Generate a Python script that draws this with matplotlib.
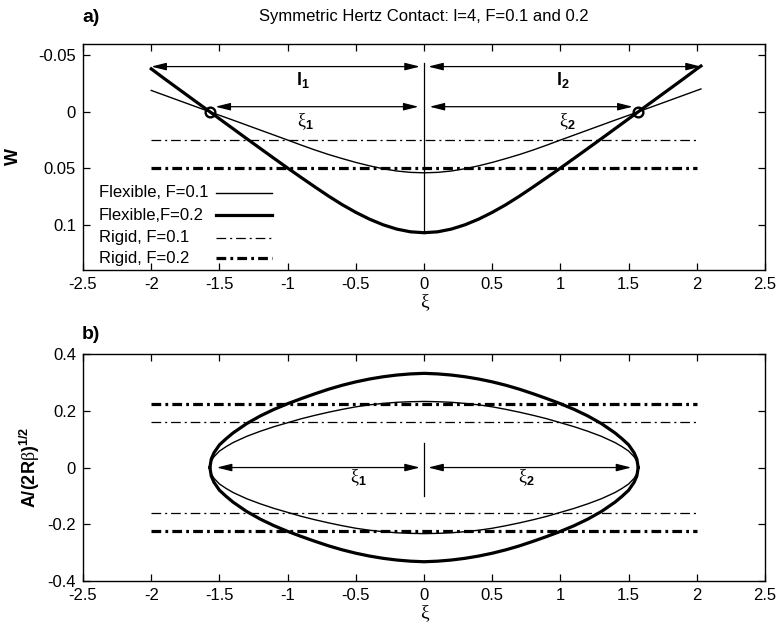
import matplotlib
matplotlib.use("Agg")
import matplotlib.pyplot as plt

plt.rcParams["font.family"] = "Liberation Sans"
plt.rcParams["axes.unicode_minus"] = False
plt.rcParams["mathtext.fontset"] = "custom"
plt.rcParams["mathtext.rm"] = "Liberation Serif"
plt.rcParams["mathtext.bf"] = "Liberation Sans:bold"
plt.rcParams["lines.scale_dashes"] = False

# a) deflection W along xi
xi_a = [-2.0, -1.9, -1.8, -1.7, -1.57, -1.5, -1.4, -1.3, -1.2, -1.1, -1.0, -0.9, -0.8, -0.7,
        -0.6, -0.5, -0.4, -0.3, -0.2, -0.1, 0.0, 0.1, 0.2, 0.3, 0.4, 0.5, 0.6, 0.7, 0.8, 0.9,
        1.0, 1.1, 1.2, 1.3, 1.4, 1.5, 1.57, 1.7, 1.8, 1.9, 2.0, 2.03]
w_flex_01 = [-0.0189, -0.0145, -0.0101, -0.0057, 0.0, 0.0031, 0.0074, 0.0118, 0.0162, 0.0206,
             0.0250, 0.0295, 0.0338, 0.0378, 0.0414, 0.0448, 0.0478, 0.0504, 0.0524, 0.0536,
             0.0540, 0.0536, 0.0524, 0.0504, 0.0478, 0.0448, 0.0414, 0.0378, 0.0338, 0.0295,
             0.0250, 0.0206, 0.0162, 0.0118, 0.0074, 0.0031, 0.0, -0.0057, -0.0101, -0.0145,
             -0.0189, -0.0202]
w_flex_02 = [-0.0380, -0.0290, -0.0202, -0.0114, 0.0, 0.0062, 0.0150, 0.0238, 0.0325, 0.0412,
             0.0498, 0.0582, 0.0665, 0.0746, 0.0822, 0.0890, 0.0950, 0.1000, 0.1038, 0.1062,
             0.1070, 0.1062, 0.1038, 0.1000, 0.0950, 0.0890, 0.0822, 0.0746, 0.0665, 0.0582,
             0.0498, 0.0412, 0.0325, 0.0238, 0.0150, 0.0062, 0.0, -0.0114, -0.0202, -0.0290,
             -0.0380, -0.0405]
w_rigid = [0.025, 0.05]
rigid_x = [-2.0, 2.0]
xi_touch = [-1.57, 1.57]
l_ends = [-2.0, 2.03]

# b) contact half-width A/(2R beta)^1/2
xi_b = [-1.57, -1.56, -1.54, -1.5, -1.45, -1.4, -1.3, -1.2, -1.1, -1.0, -0.9, -0.8, -0.7,
        -0.6, -0.5, -0.4, -0.3, -0.2, -0.1, 0.0, 0.1, 0.2, 0.3, 0.4, 0.5, 0.6, 0.7, 0.8, 0.9,
        1.0, 1.1, 1.2, 1.3, 1.4, 1.45, 1.5, 1.54, 1.56, 1.57]
a_flex_01 = [0.0, 0.022, 0.038, 0.058, 0.074, 0.088, 0.110, 0.128, 0.144, 0.158, 0.172, 0.184,
             0.195, 0.205, 0.214, 0.221, 0.226, 0.230, 0.232, 0.233, 0.232, 0.230, 0.226, 0.221,
             0.214, 0.205, 0.195, 0.184, 0.172, 0.158, 0.144, 0.128, 0.110, 0.088, 0.074, 0.058,
             0.038, 0.022, 0.0]
a_flex_02 = [0.0, 0.030, 0.052, 0.080, 0.102, 0.122, 0.155, 0.182, 0.205, 0.225, 0.243, 0.260,
             0.276, 0.290, 0.302, 0.312, 0.320, 0.326, 0.330, 0.332, 0.330, 0.326, 0.320, 0.312,
             0.302, 0.290, 0.276, 0.260, 0.243, 0.225, 0.205, 0.182, 0.155, 0.122, 0.102, 0.080,
             0.052, 0.030, 0.0]
a_rigid = [0.16, 0.225]

xticks = [-2.5, -2, -1.5, -1, -0.5, 0, 0.5, 1, 1.5, 2, 2.5]
xtick_labels = ["-2.5", "-2", "-1.5", "-1", "-0.5", "0", "0.5", "1", "1.5", "2", "2.5"]
ya_ticks = [-0.05, 0, 0.05, 0.1]
ya_labels = ["-0.05", "0", "0.05", "0.1"]
yb_ticks = [-0.4, -0.2, 0, 0.2, 0.4]
yb_labels = ["-0.4", "-0.2", "0", "0.2", "0.4"]

thin_dd = (0, (7, 2.8, 1.5, 2.8))
thick_dd = (0, (7, 3, 2, 3))
arrow = dict(arrowstyle="<|-|>,head_length=0.6,head_width=0.15", color="k", lw=0.9,
             mutation_scale=15, shrinkA=0, shrinkB=0)

styles = [
    ("Flexible, F=0.1", dict(color="k", lw=1.0)),
    ("Flexible,F=0.2", dict(color="k", lw=2.3)),
    ("Rigid, F=0.1", dict(color="k", lw=0.9, ls=thin_dd)),
    ("Rigid, F=0.2", dict(color="k", lw=2.3, ls=thick_dd)),
]

fig = plt.figure(figsize=(7.79, 6.31), dpi=100)
ax1 = fig.add_axes([0.1066, 0.5721, 0.8755, 0.3582])
ax2 = fig.add_axes([0.1066, 0.0792, 0.8755, 0.3597])

# --- panel a ---
ax1.plot(xi_a, w_flex_01, **styles[0][1])
ax1.plot(xi_a, w_flex_02, **styles[1][1])
ax1.plot(rigid_x, [w_rigid[0]] * 2, **styles[2][1])
ax1.plot(rigid_x, [w_rigid[1]] * 2, **styles[3][1])
ax1.plot(xi_touch, [0, 0], "o", mfc="none", mec="k", ms=7, mew=1.7)
ax1.plot([0, 0], [-0.0435, max(w_flex_02)], color="k", lw=0.9)

ax1.annotate("", xy=(l_ends[0], -0.040), xytext=(-0.03, -0.040), arrowprops=arrow)
ax1.annotate("", xy=(0.03, -0.040), xytext=(l_ends[1], -0.040), arrowprops=arrow)
ax1.annotate("", xy=(xi_touch[0] + 0.04, -0.0045), xytext=(-0.04, -0.0045), arrowprops=arrow)
ax1.annotate("", xy=(0.04, -0.0045), xytext=(xi_touch[1] - 0.04, -0.0045), arrowprops=arrow)
ax1.text(-0.89, -0.028, r"$\mathbf{l}_{\mathbf{1}}$", fontsize=13, ha="center", va="center")
ax1.text(1.02, -0.028, r"$\mathbf{l}_{\mathbf{2}}$", fontsize=13, ha="center", va="center")
ax1.text(-0.87, 0.009, r"$\mathrm{\xi}_{\mathbf{1}}$", fontsize=13, ha="center", va="center")
ax1.text(1.05, 0.009, r"$\mathrm{\xi}_{\mathbf{2}}$", fontsize=13, ha="center", va="center")

ax1.set_xlim(-2.5, 2.5)
ax1.set_ylim(0.14, -0.06)
ax1.set_yticks(ya_ticks)
ax1.set_yticklabels(ya_labels)
ax1.set_ylabel("W", fontsize=13, fontweight="bold", labelpad=12)

# key: labels on the left, line samples on the right
key_rows = [0.341, 0.243, 0.142, 0.053]
for (label, kw), yk in zip(styles, key_rows):
    ax1.text(0.0235, yk, label, transform=ax1.transAxes, fontsize=12, va="center", ha="left")
    ax1.plot([0.195, 0.277], [yk, yk], transform=ax1.transAxes, **kw)

# --- panel b ---
ax2.plot(xi_b, a_flex_01, **styles[0][1])
ax2.plot(xi_b, [-a for a in a_flex_01], **styles[0][1])
ax2.plot(xi_b, a_flex_02, **styles[1][1])
ax2.plot(xi_b, [-a for a in a_flex_02], **styles[1][1])
for sign in (1, -1):
    ax2.plot(rigid_x, [sign * a_rigid[0]] * 2, **styles[2][1])
    ax2.plot(rigid_x, [sign * a_rigid[1]] * 2, **styles[3][1])
ax2.plot([0, 0], [0.087, -0.10], color="k", lw=0.9)

ax2.annotate("", xy=(xi_touch[0] + 0.05, 0), xytext=(-0.03, 0), arrowprops=arrow)
ax2.annotate("", xy=(0.03, 0), xytext=(xi_touch[1] - 0.05, 0), arrowprops=arrow)
ax2.text(-0.48, -0.037, r"$\mathrm{\xi}_{\mathbf{1}}$", fontsize=13, ha="center", va="center")
ax2.text(0.75, -0.037, r"$\mathrm{\xi}_{\mathbf{2}}$", fontsize=13, ha="center", va="center")

ax2.set_xlim(-2.5, 2.5)
ax2.set_ylim(-0.4, 0.4)
ax2.set_yticks(yb_ticks)
ax2.set_yticklabels(yb_labels)
ax2.set_ylabel(r"$\mathbf{A/(2R}\mathrm{\beta}\mathbf{)}^{\mathbf{1/2}}$", fontsize=13, labelpad=4)

for ax in (ax1, ax2):
    ax.set_xticks(xticks)
    ax.set_xticklabels(xtick_labels)
    ax.set_xlabel("ξ", fontsize=14, family="Liberation Serif", labelpad=1)
    ax.tick_params(direction="in", top=True, right=True, length=5, width=0.9,
                   labelsize=12, pad=5)
    for s in ax.spines.values():
        s.set_linewidth(1.0)

fig.text(424 / 779, 1 - 16 / 631, "Symmetric Hertz Contact: l=4, F=0.1 and 0.2",
         fontsize=12, ha="center", va="center")
fig.text(82 / 779, 1 - 17 / 631, "a)", fontsize=14, fontweight="bold", va="center")
fig.text(82 / 779, 1 - 334 / 631, "b)", fontsize=14, fontweight="bold", va="center")

fig.savefig("out.png", dpi=100)
